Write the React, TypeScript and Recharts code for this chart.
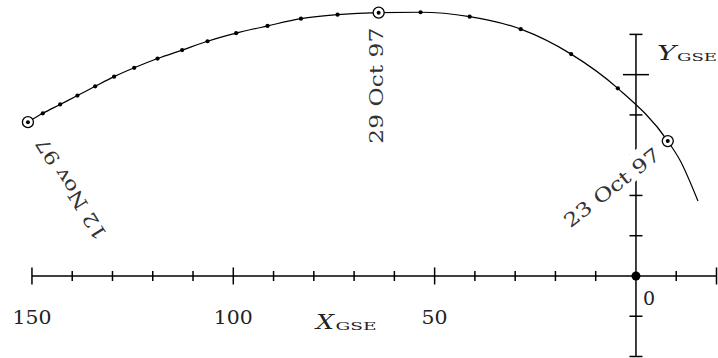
import React from 'react';
import { ComposedChart, Line, Scatter, XAxis, YAxis } from 'recharts';

// Daily positions along the orbit, GSE coordinates in Earth radii
const orbitDays = [
  '12 Nov 97', '11 Nov 97', '10 Nov 97', '9 Nov 97', '8 Nov 97', '7 Nov 97', '6 Nov 97',
  '5 Nov 97', '4 Nov 97', '3 Nov 97', '2 Nov 97', '1 Nov 97', '31 Oct 97', '30 Oct 97',
  '29 Oct 97', '28 Oct 97', '27 Oct 97', '26 Oct 97', '25 Oct 97', '24 Oct 97', '23 Oct 97',
  '', ''
];
const orbitX = [
  151.0, 147.3, 143.0, 138.7, 134.3, 129.6, 124.6, 118.8, 112.7, 106.4, 99.3, 91.5, 83.2, 74.1,
  63.9, 53.5, 41.3, 28.6, 16.1, 4.5, -7.9, -10.9, -15.4
];
const orbitY = [
  38.2, 40.4, 42.6, 44.8, 47.1, 49.5, 51.7, 54.0, 56.1, 58.3, 60.3, 62.1, 63.9, 64.9,
  65.4, 65.5, 64.4, 61.3, 55.1, 46.6, 33.5, 28.8, 18.6
];
const labelledDays = ['12 Nov 97', '29 Oct 97', '23 Oct 97'];

// Axis ticks
const xTicks = [150, 140, 130, 120, 110, 100, 90, 80, 70, 60, 50, 40, 30, 20, 10, -10, -20];
const xMajorTicks = [150, 100, 50];
const yTicks = [60, 50, 40, 30, 20, 10, -10, -20];
const yMajorTicks = [50];
const xAxisExtent = [150, -20];
const yAxisExtent = [-20, 60];

const orbit = orbitX.map((x, i) => ({ x, y: orbitY[i], day: orbitDays[i] }));
const dailyMarks = orbit.filter((p) => p.day !== '');
const labelled = orbit.filter((p) => labelledDays.includes(p.day));
const xTickData = xTicks.map((x) => ({ x, y: 0 }));
const yTickData = yTicks.map((y) => ({ x: 0, y }));
const xAxisLine = xAxisExtent.map((x) => ({ x, y: 0 }));
const yAxisLine = yAxisExtent.map((y) => ({ x: 0, y }));
const origin = [{ x: 0, y: 0 }];

const FONT = '"DejaVu Serif", serif';
const LABEL_LEN = 116;

// where each date label sits relative to its point (text ends at the anchor)
const labelPlacement: Record<string, { dx: number; dy: number; angle: number }> = {
  '12 Nov 97': { dx: 18, dy: 14, angle: -122 },
  '29 Oct 97': { dx: 4.5, dy: 15, angle: -90 },
  '23 Oct 97': { dx: -6, dy: 16, angle: -38 }
};

const DayMark = (props: any) => {
  const { cx, cy, payload } = props;
  if (labelledDays.includes(payload.day)) {
    return (
      <g>
        <circle cx={cx} cy={cy} r={5.5} fill="#fff" stroke="#000" strokeWidth={1.3} />
        <circle cx={cx} cy={cy} r={2} fill="#000" />
      </g>
    );
  }
  return <circle cx={cx} cy={cy} r={2.1} fill="#000" />;
};

// rotated date label on a white box, so the axis breaks behind it
const DateLabel = (props: any) => {
  const { cx, cy, payload } = props;
  const p = labelPlacement[payload.day];
  const ax = cx + p.dx;
  const ay = cy + p.dy;
  return (
    <g transform={`translate(${ax} ${ay}) rotate(${p.angle})`}>
      <rect x={-LABEL_LEN - 2} y={-22} width={LABEL_LEN + 4} height={25} fill="#fff" />
      <text
        x={0}
        y={0}
        textAnchor="end"
        fontFamily={FONT}
        fontSize={19}
        fill="#333"
        textLength={LABEL_LEN}
        lengthAdjust="spacingAndGlyphs"
      >
        {payload.day}
      </text>
    </g>
  );
};

const XTick = (props: any) => {
  const { cx, cy, payload } = props;
  const major = xMajorTicks.includes(payload.x) || payload.x === -20;
  const h = major ? 8.5 : 5;
  return (
    <g>
      <line x1={cx} x2={cx} y1={cy - h} y2={cy + h} stroke="#000" strokeWidth={1.5} />
      {xMajorTicks.includes(payload.x) && (
        <text x={cx} y={cy + 48} textAnchor="middle" fontFamily={FONT} fontSize={19} fill="#222"
          textLength={payload.x >= 100 ? 39 : 26} lengthAdjust="spacingAndGlyphs">
          {payload.x}
        </text>
      )}
    </g>
  );
};

const YTick = (props: any) => {
  const { cx, cy, payload } = props;
  const w = yMajorTicks.includes(payload.y) ? 13 : 6.5;
  return <line x1={cx - w} x2={cx + w} y1={cy} y2={cy} stroke="#000" strokeWidth={1.5} />;
};

const OriginDot = (props: any) => {
  const { cx, cy } = props;
  return (
    <g>
      <circle cx={cx} cy={cy} r={4.5} fill="#000" />
      <text x={cx + 7} y={cy + 29} fontFamily={FONT} fontSize={19} fill="#222">0</text>
    </g>
  );
};

export default function App() {
  return (
    <div style={{ position: 'absolute', left: 0, top: 0, background: '#fff' }}>
      <ComposedChart
        width={718}
        height={358}
        margin={{ top: 6.2, right: 1.5, bottom: 1.5, left: 23.9 }}
      >
        <XAxis type="number" dataKey="x" domain={[-20, 152]} reversed hide />
        <YAxis type="number" dataKey="y" domain={[-20, 67]} hide />
        <Line data={xAxisLine} dataKey="y" type="linear" stroke="#000" strokeWidth={1.5} dot={false} activeDot={false} isAnimationActive={false} />
        <Line data={yAxisLine} dataKey="y" type="linear" stroke="#000" strokeWidth={1.5} dot={false} activeDot={false} isAnimationActive={false} />
        <Line
          data={orbit}
          dataKey="y"
          type="monotone"
          stroke="#000"
          strokeWidth={1.2}
          dot={false}
          activeDot={false}
          isAnimationActive={false}
        />
        <Scatter data={xTickData} dataKey="y" shape={<XTick />} isAnimationActive={false} />
        <Scatter data={yTickData} dataKey="y" shape={<YTick />} isAnimationActive={false} />
        <Scatter data={origin} dataKey="y" shape={<OriginDot />} isAnimationActive={false} />
        <Scatter data={labelled} dataKey="y" shape={<DateLabel />} isAnimationActive={false} />
        <Scatter data={dailyMarks} dataKey="y" shape={<DayMark />} isAnimationActive={false} />
        <text fontFamily={FONT} fill="#222">
          <tspan x={316} y={329} fontSize={20} fontStyle="italic" textLength={18} lengthAdjust="spacingAndGlyphs">X</tspan>
          <tspan x={335.5} y={330} fontSize={10.5} textLength={41} lengthAdjust="spacingAndGlyphs">GSE</tspan>
        </text>
        <text fontFamily={FONT} fill="#222">
          <tspan x={657} y={59.5} fontSize={20} fontStyle="italic" textLength={19} lengthAdjust="spacingAndGlyphs">Y</tspan>
          <tspan x={677} y={60.5} fontSize={10.5} textLength={40} lengthAdjust="spacingAndGlyphs">GSE</tspan>
        </text>
      </ComposedChart>
    </div>
  );
}
